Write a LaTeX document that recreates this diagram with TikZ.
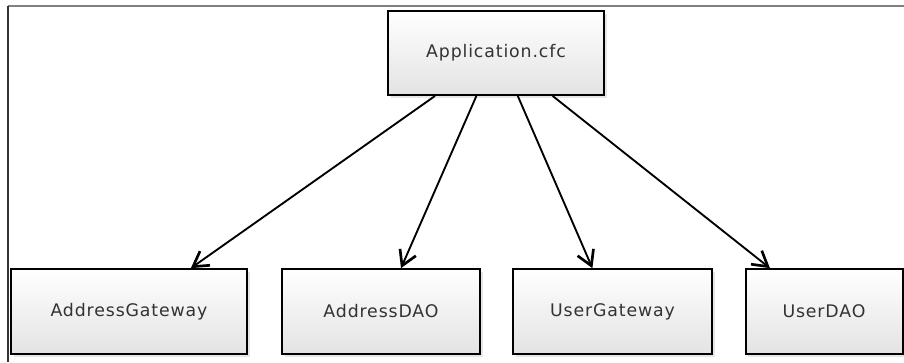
\documentclass[tikz,border=0pt]{standalone}
\usepackage{fontspec}
\setmainfont{DejaVu Sans}[LetterSpace=5]
\usetikzlibrary{arrows.meta}
\usetikzlibrary{calc}
\usetikzlibrary{shadows}

\begin{document}
\begin{tikzpicture}[x=0.75pt,y=-0.75pt]
\tikzstyle{cls}=[draw, line width=1.5pt, inner sep=0pt, top color=white, bottom color=black!11, minimum height=63.5pt, font=\fontsize{13}{15}\selectfont, text=black!80, drop shadow={shadow xshift=2pt, shadow yshift=-2pt, opacity=0.2}]
\tikzstyle{dep}=[line width=1.4pt, -{Straight Barb[length=11pt,width=13pt,line width=2pt]}]
\useasboundingbox (0,0) rectangle (904,362);
\draw [gray, line width=1.5pt] (8,6) -- (904,6);
\draw [black!80, line width=1.2pt] (8,6) -- (8,362);
\node [cls, minimum width=162pt, minimum height=63pt] (app) at (496,53) {Application.cfc};
\node [cls, minimum width=177pt] (addrgw) at (129,311.5) {AddressGateway};
\node [cls, minimum width=148.5pt] (addrdao) at (381,311.5) {AddressDAO};
\node [cls, minimum width=149.25pt] (usergw) at (612.5,311.5) {UserGateway};
\node [cls, minimum width=117.75pt] (userdao) at (824,311.5) {UserDAO};
\draw [dep] ($(app.south west)!0.22!(app.south east)$) -- ($(addrgw.north west)!0.76!(addrgw.north east)$);
\draw [dep] ($(app.south west)!0.41!(app.south east)$) -- ($(addrdao.north west)!0.6!(addrdao.north east)$);
\draw [dep] ($(app.south west)!0.6!(app.south east)$) -- ($(usergw.north west)!0.4!(usergw.north east)$);
\draw [dep] ($(app.south west)!0.76!(app.south east)$) -- ($(userdao.north west)!0.16!(userdao.north east)$);
\end{tikzpicture}
\end{document}
